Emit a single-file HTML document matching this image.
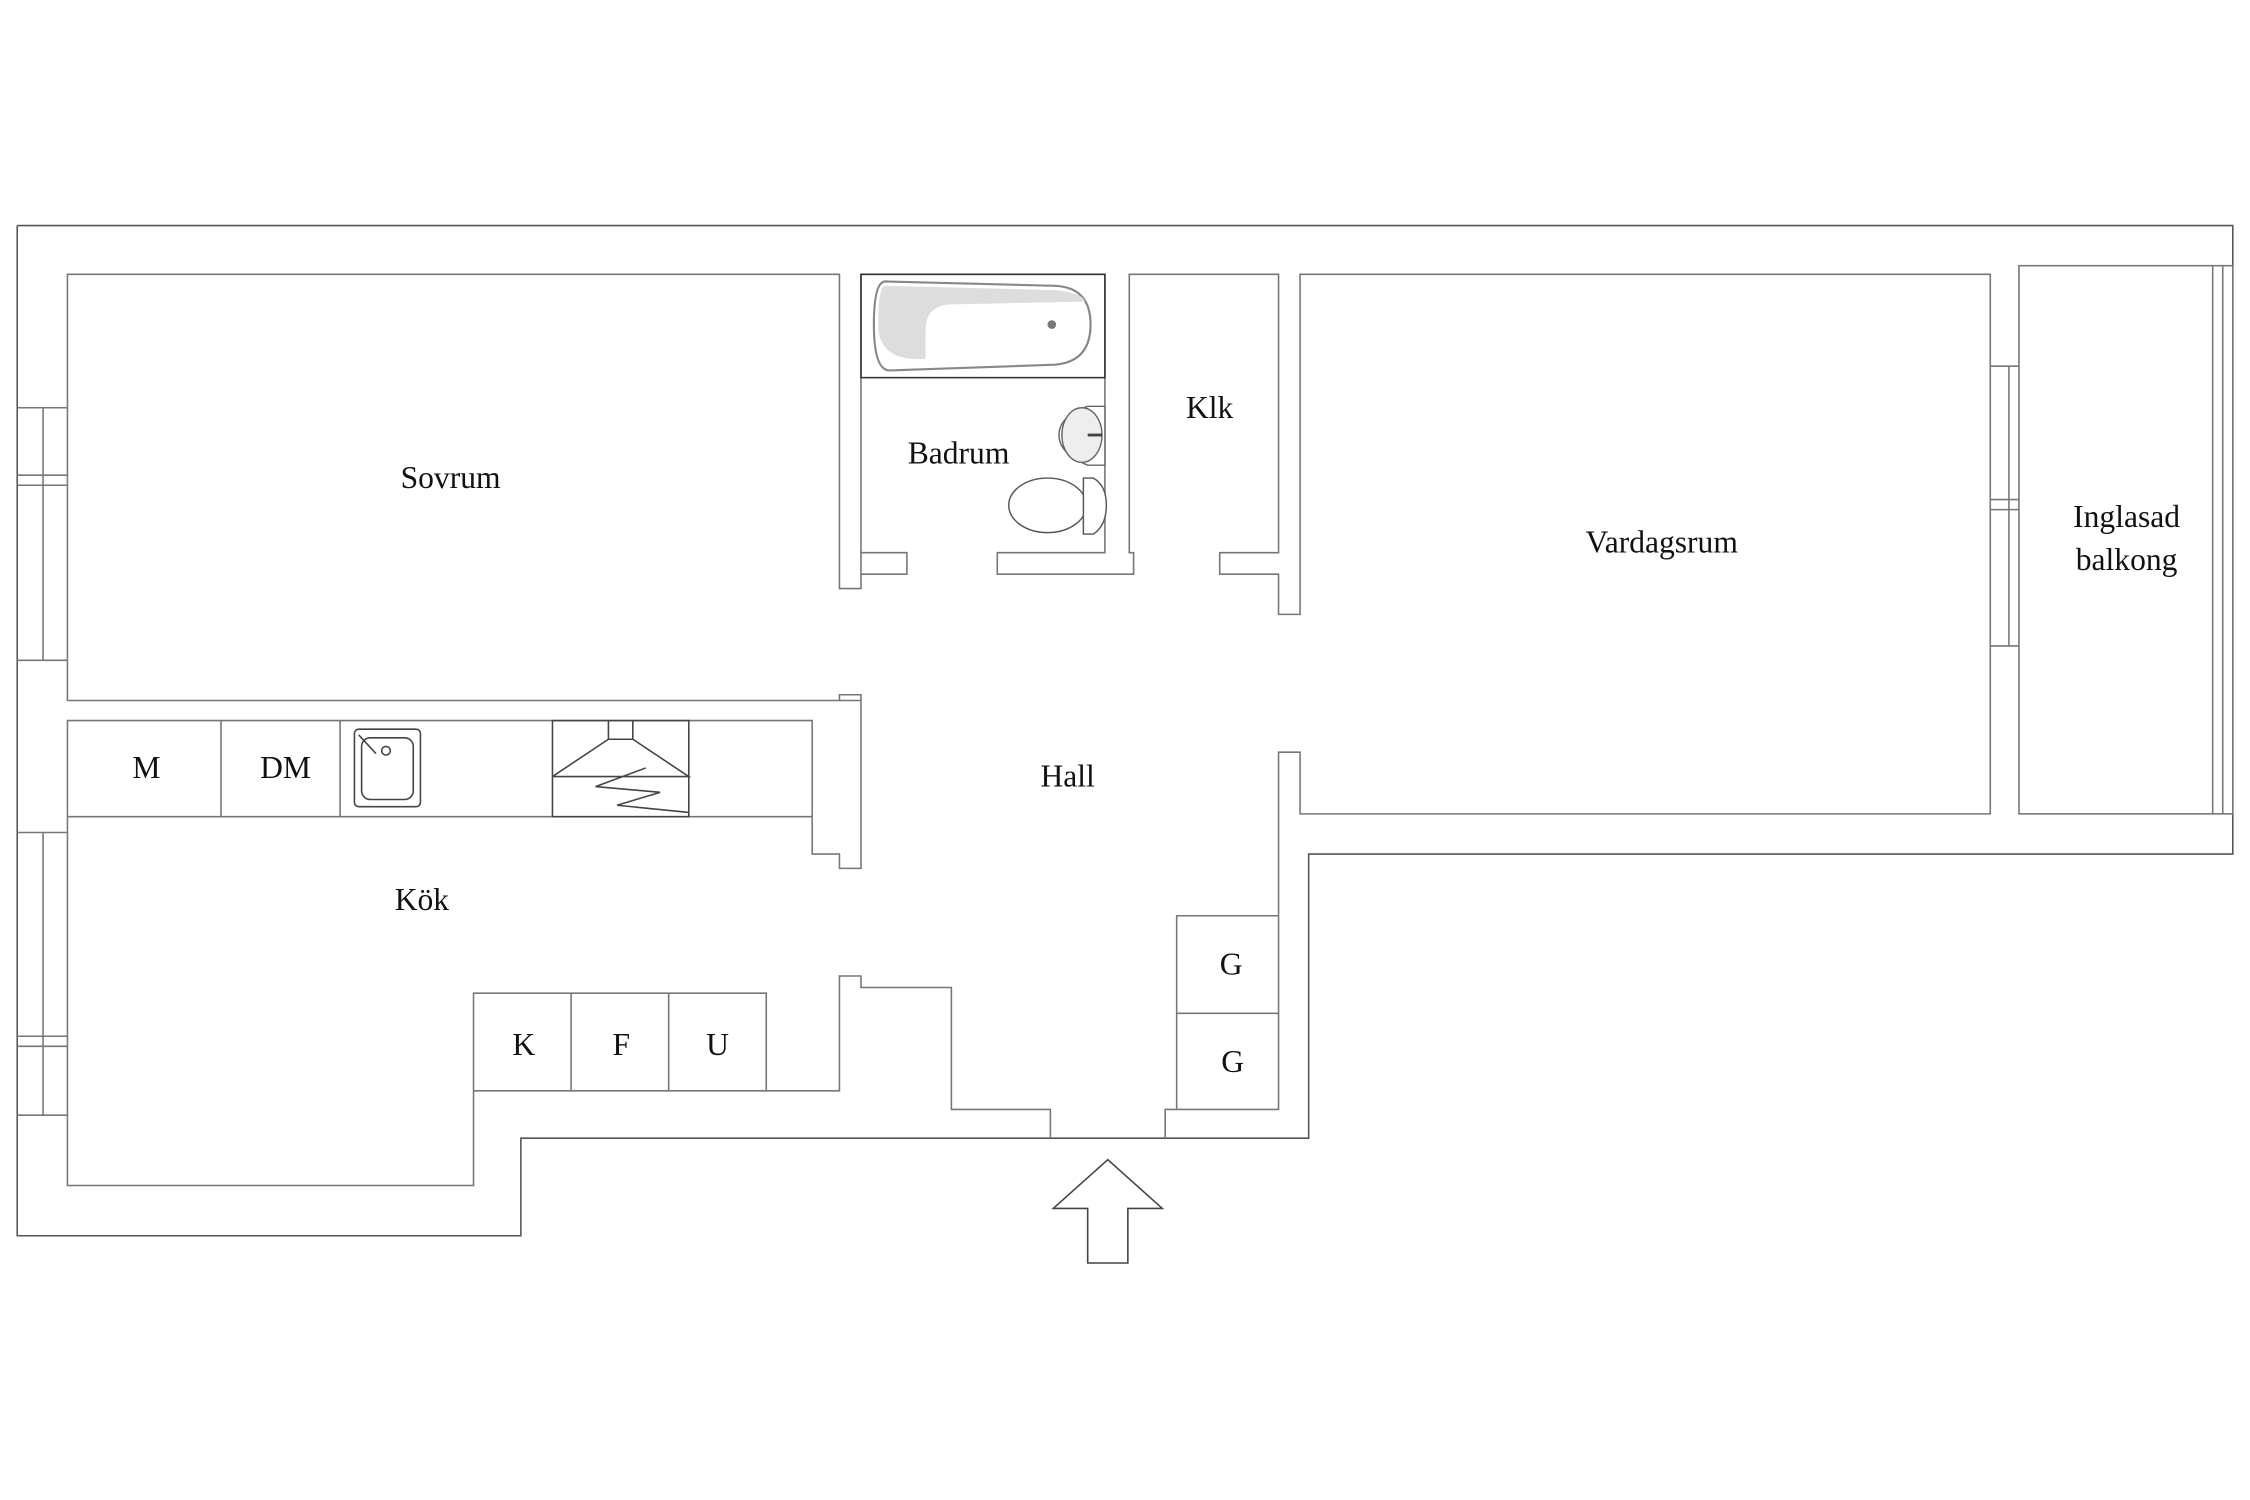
<!DOCTYPE html>
<html><head><meta charset="utf-8"><style>
html,body{margin:0;padding:0;background:#fff;width:2250px;height:1500px;overflow:hidden}
svg{display:block}
text{font-family:"Liberation Serif",serif;fill:#111;font-size:22px;text-anchor:middle}
</style></head><body>
<svg width="2250" height="1500" viewBox="0 0 1568 1045" xmlns="http://www.w3.org/2000/svg">
<g fill="none" stroke="#777" stroke-width="1.1">
<!-- outer -->
<polyline stroke="#555" points="12,157 1556,157 1556,595 912,595 912,793 812,793 M0,0"/>
<polyline stroke="#555" points="732,793 363,793 363,861 12,861 12,157"/>
<line x1="732" y1="793" x2="812" y2="793" stroke="#555"/>
<!-- sovrum -->
<polyline points="47,284 47,191 585,191 585,410 600,410 600,385 632,385 632,400 600,400"/>
<polyline points="47,338 47,460"/>
<polyline points="47,460 47,488 600,488"/>
<!-- left windows -->
<polyline points="12,284 47,284 M0,0"/><line x1="12" y1="331" x2="47" y2="331"/><line x1="12" y1="338" x2="47" y2="338"/><line x1="12" y1="460" x2="47" y2="460"/><line x1="30" y1="284" x2="30" y2="460"/><line x1="47" y1="284" x2="47" y2="338"/>
<line x1="12" y1="580" x2="47" y2="580"/><line x1="12" y1="722" x2="47" y2="722"/><line x1="12" y1="729" x2="47" y2="729"/><line x1="12" y1="777" x2="47" y2="777"/><line x1="30" y1="580" x2="30" y2="777"/>
<!-- bathroom -->
<polyline points="600,385 600,191 770,191 770,385 695,385 695,400 790,400 790,385 787,385 787,191 891,191 891,385 850,385 850,400 891,400 891,428 906,428 906,191 1387,191 1387,255"/>
<rect x="600" y="191" width="170" height="72" stroke="#333"/>
<!-- vardagsrum -->
<polyline points="1387,450 1387,567 906,567 906,524 891,524 891,773 812,773 812,793"/>
<polyline points="1387,255 1387,450"/>
<line x1="1387" y1="255" x2="1407" y2="255"/><line x1="1387" y1="348" x2="1407" y2="348"/><line x1="1387" y1="355" x2="1407" y2="355"/><line x1="1387" y1="450" x2="1407" y2="450"/><line x1="1400" y1="255" x2="1400" y2="450"/>
<!-- balcony -->
<rect x="1407" y="185" width="149" height="382"/>
<line x1="1542" y1="185" x2="1542" y2="567"/><line x1="1549" y1="185" x2="1549" y2="567"/>
<!-- kitchen counter -->
<polyline points="47,569 47,502 566,502 566,595 585,595 585,605 600,605 600,484 585,484 585,488"/>
<line x1="47" y1="569" x2="566" y2="569"/>
<line x1="154" y1="502" x2="154" y2="569"/><line x1="237" y1="502" x2="237" y2="569"/>
<rect x="385" y="502" width="95" height="67" stroke="#444"/>
<polyline points="385,541 424,515 441,515 480,541 385,541" stroke="#444"/>
<line x1="424" y1="502" x2="424" y2="515" stroke="#444"/><line x1="441" y1="502" x2="441" y2="515" stroke="#444"/>
<polyline points="450,535 415,548 460,552 430,561 480,566" stroke="#444"/>
<rect x="247" y="508" width="46" height="54" rx="3" stroke="#444"/>
<rect x="252" y="514" width="36" height="43" rx="6" stroke="#444"/>
<circle cx="269" cy="523" r="3" stroke="#444"/><line x1="250" y1="512" x2="262" y2="525" stroke="#444"/>
<!-- kitchen lower -->
<polyline points="47,569 47,826 330,826 330,692 534,692 534,760 330,760"/>
<line x1="398" y1="692" x2="398" y2="760"/><line x1="466" y1="692" x2="466" y2="760"/>
<polyline points="534,760 585,760 585,680 600,680 600,688 663,688 663,773 732,773 732,793"/>
<!-- G closets -->
<polyline points="891,638 820,638 820,773"/><line x1="820" y1="706" x2="891" y2="706"/>
<!-- arrow -->
<polygon points="734,842 772,808 810,842 786,842 786,880 758,880 758,842" stroke="#444"/>
</g>
<!-- bath fixtures -->
<path d="M617,196 L735,199 Q760,200 760,226 Q760,252 735,254 L620,258 Q609,258 609,226 Q609,196 617,196Z" fill="#fff" stroke="#888" stroke-width="1.5"/>
<path d="M617,199 L735,202 Q755,204 756,210 L660,212 Q645,214 645,230 L645,250 Q612,252 612,226 Q612,199 617,199Z" fill="#ddd" stroke="none"/>
<circle cx="733" cy="226" r="3" fill="#777"/>
<path d="M758,283 L770,283 L770,324 L758,324 Q738,316 738,303 Q738,290 758,283Z" fill="#fff" stroke="#666"/>
<ellipse cx="754" cy="303" rx="14" ry="19" fill="#eee" stroke="#666"/>
<line x1="758" y1="303" x2="768" y2="303" stroke="#444" stroke-width="2"/>
<ellipse cx="730" cy="352" rx="27" ry="19" fill="#fff" stroke="#555"/>
<path d="M755,333 L762,333 Q771,338 771,352 Q771,366 762,372 L755,372Z" fill="#fff" stroke="#555"/>
<g>
<text x="314" y="340">Sovrum</text>
<text x="668" y="323">Badrum</text>
<text x="843" y="291">Klk</text>
<text x="1158" y="385">Vardagsrum</text>
<text x="1482" y="367">Inglasad</text>
<text x="1482" y="397">balkong</text>
<text x="744" y="548">Hall</text>
<text x="294" y="634">Kök</text>
<text x="102" y="542">M</text>
<text x="199" y="542">DM</text>
<text x="365" y="735">K</text>
<text x="433" y="735">F</text>
<text x="500" y="735">U</text>
<text x="858" y="679">G</text>
<text x="859" y="747">G</text>
</g>
</svg>
</body></html>
